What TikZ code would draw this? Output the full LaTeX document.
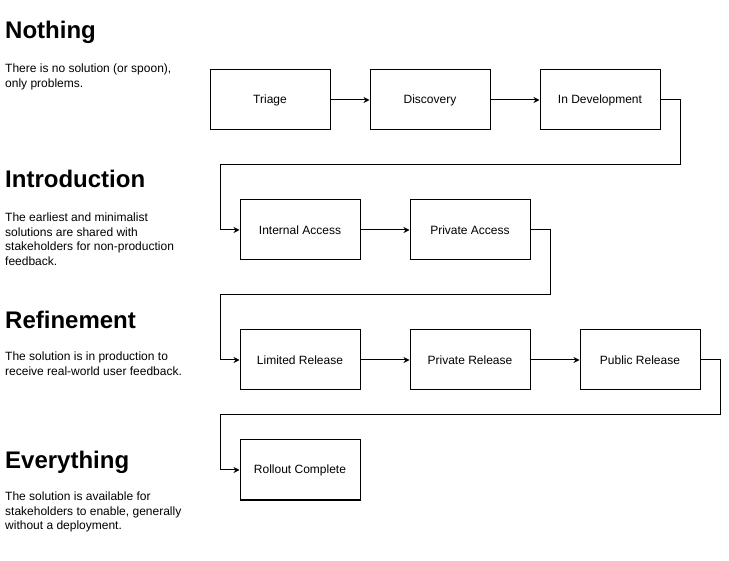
\documentclass[tikz,border=0pt]{standalone}
\usepackage{fontspec}
\setmainfont{Liberation Sans}
\usetikzlibrary{arrows.meta}
\tikzset{
  stage/.style={draw,line width=1pt,minimum width=120pt,minimum height=60pt,inner sep=0pt,font=\fontsize{12}{14.4}\selectfont},
  phase/.style={anchor=base west,inner sep=0pt,font=\bfseries\fontsize{24}{28.8}\selectfont},
  note/.style={anchor=north west,inner sep=0pt,align=left,font=\fontsize{12}{14.4}\selectfont},
  flow/.style={-{Stealth[length=6pt,width=6pt]},line width=1pt}
}
\begin{document}
\begin{tikzpicture}[x=1pt,y=-1pt]
\pgfmathsetmacro{\kback}{220}
\useasboundingbox (0,0) rectangle (729,561);
\foreach \kn/\kx/\ky/\klb in {tri/270/100/Triage,dis/430/100/Discovery,dev/600/100/In Development,ia/300/230/Internal Access,pa/470/230/Private Access,lr/300/360/Limited Release,prr/470/360/Private Release,pur/640/360/Public Release,rc/300/470/Rollout Complete}{\node[stage](\kn) at (\kx,\ky){\klb};}
\foreach \ka/\kb in {tri/dis,dis/dev,ia/pa,lr/prr,prr/pur}{\draw[flow](\ka)--(\kb);}
\foreach \ka/\kb/\kx/\ky in {dev/ia/680/165,pa/lr/550/295,pur/rc/720/415}{\draw[flow](\ka.east)-|(\kx,\ky)--(\kback,\ky)|-(\kb.west);}
\foreach \kt/\ky in {Nothing/39,Introduction/188,Refinement/329,Everything/469}{\node[phase](\kt) at (5,\ky){\kt};}
\node[note](nothingtxt) at (5,64){There is no solution (or spoon),\\only problems.};
\node[note](introtxt) at (5,213){The earliest and minimalist\\solutions are shared with\\stakeholders for non-production\\feedback.};
\node[note](refinetxt) at (5,352){The solution is in production to\\receive real-world user feedback.};
\node[note](everytxt) at (5,492){The solution is available for\\stakeholders to enable, generally\\without a deployment.};
\end{tikzpicture}
\end{document}
